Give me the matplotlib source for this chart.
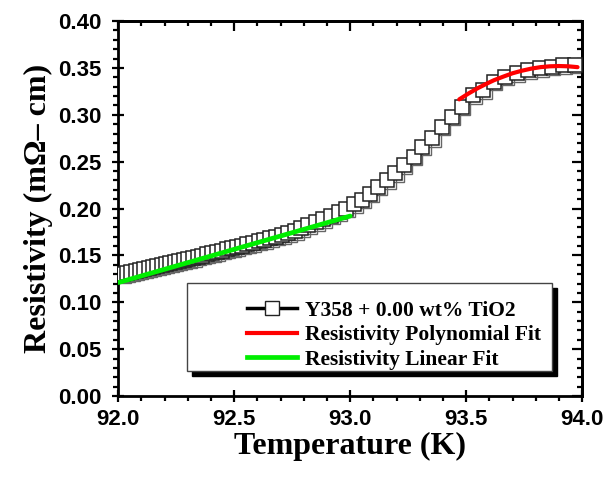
import matplotlib
matplotlib.use("Agg")
import matplotlib.pyplot as plt
import matplotlib.transforms as mtransforms
from matplotlib.ticker import MultipleLocator, FormatStrFormatter
from matplotlib.lines import Line2D
from matplotlib.patches import Rectangle

temperature = [92.020, 92.037, 92.056, 92.075, 92.093, 92.112, 92.131, 92.149, 92.168,
               92.187, 92.205, 92.224, 92.243, 92.261, 92.282, 92.302, 92.322, 92.342,
               92.362, 92.382, 92.404, 92.425, 92.447, 92.468, 92.490, 92.511, 92.534,
               92.557, 92.580, 92.605, 92.629, 92.655, 92.681, 92.708, 92.734, 92.762,
               92.790, 92.820, 92.852, 92.884, 92.917, 92.950, 92.984, 93.018, 93.052,
               93.086, 93.122, 93.158, 93.194, 93.230, 93.273, 93.309, 93.352, 93.395,
               93.438, 93.481, 93.531, 93.574, 93.618, 93.668, 93.718, 93.768, 93.819,
               93.869, 93.919, 93.970]
resistivity = [0.1300, 0.1309, 0.1320, 0.1330, 0.1340, 0.1351, 0.1362, 0.1372, 0.1383,
               0.1394, 0.1404, 0.1415, 0.1426, 0.1437, 0.1449, 0.1461, 0.1473, 0.1485,
               0.1498, 0.1510, 0.1523, 0.1536, 0.1550, 0.1563, 0.1577, 0.1590, 0.1605,
               0.1620, 0.1634, 0.1650, 0.1666, 0.1683, 0.1700, 0.1718, 0.1736, 0.1762,
               0.1790, 0.1820, 0.1855, 0.1890, 0.1925, 0.1960, 0.2000, 0.2045, 0.2095,
               0.2160, 0.2233, 0.2304, 0.2375, 0.2464, 0.2553, 0.2659, 0.2748, 0.2873,
               0.2979, 0.3086, 0.3210, 0.3264, 0.3353, 0.3406, 0.3442, 0.3477, 0.3495,
               0.3513, 0.3531, 0.3535]

# fit curves
linear_T = [92.0, 93.0]
linear_R = [0.121, 0.192]
poly_T = [93.47, 93.51, 93.55, 93.59, 93.62, 93.66, 93.70, 93.74, 93.78, 93.82, 93.86,
          93.90, 93.94, 93.98]
poly_R = [0.3164, 0.3227, 0.3284, 0.3334, 0.3369, 0.3407, 0.3443, 0.3470, 0.3492,
          0.3508, 0.3517, 0.3520, 0.3517, 0.3508]

series_label = "Y358 + 0.00 wt% TiO2"
poly_label = "Resistivity Polynomial Fit"
linear_label = "Resistivity Linear Fit"

serif = ['Liberation Serif', 'DejaVu Serif']
sans = ['Liberation Sans', 'DejaVu Sans']

fig = plt.figure(figsize=(6.06, 4.78), dpi=100)
ax = fig.add_axes([0.195, 0.1715, 0.7657, 0.7845])

# data squares with a small drop shadow
shadow = mtransforms.offset_copy(ax.transData, fig=fig, x=1.2, y=-1.2, units='points')
ax.plot(temperature, resistivity, ls='none', marker='s', ms=9.6, mfc='none',
        mec='#666666', mew=1.0, transform=shadow, zorder=2)
ax.plot(temperature, resistivity, ls='none', marker='s', ms=9.6, mfc='white',
        mec='#222222', mew=1.1, zorder=3)
ax.plot(poly_T, poly_R, color='#ff0000', lw=3.0, solid_capstyle='round', zorder=4)
ax.plot(linear_T, linear_R, color='#00ee00', lw=3.4, solid_capstyle='round', zorder=4)

ax.set_xlim(92.0, 94.0)
ax.set_ylim(0.0, 0.40)
ax.xaxis.set_major_locator(MultipleLocator(0.5))
ax.xaxis.set_minor_locator(MultipleLocator(0.1))
ax.yaxis.set_major_locator(MultipleLocator(0.05))
ax.yaxis.set_minor_locator(MultipleLocator(0.01))
ax.xaxis.set_major_formatter(FormatStrFormatter('%.1f'))
ax.yaxis.set_major_formatter(FormatStrFormatter('%.2f'))

for s in ax.spines.values():
    s.set_linewidth(2.0)
ax.tick_params(which='major', direction='inout', length=8, width=1.6, pad=5)
ax.tick_params(which='minor', direction='out', length=3.5, width=1.6)
ax.tick_params(axis='y', which='major', pad=8)
for lab in ax.get_xticklabels() + ax.get_yticklabels():
    lab.set_family(sans)
    lab.set_fontweight('bold')
    lab.set_fontsize(16)

# inward ticks on top and right
top = ax.secondary_xaxis('top')
top.xaxis.set_major_locator(MultipleLocator(0.5))
top.xaxis.set_minor_locator(MultipleLocator(0.1))
top.tick_params(which='major', direction='in', length=7, width=1.6, labeltop=False)
top.tick_params(which='minor', direction='in', length=3.5, width=1.6)
right = ax.secondary_yaxis('right')
right.yaxis.set_major_locator(MultipleLocator(0.05))
right.yaxis.set_minor_locator(MultipleLocator(0.01))
right.tick_params(which='major', direction='in', length=7, width=1.6, labelright=False)
right.tick_params(which='minor', direction='in', length=3.5, width=1.6)
for sec in (top, right):
    for s in sec.spines.values():
        s.set_linewidth(2.0)

ax.set_xlabel('Temperature (K)', family=serif, fontweight='bold', fontsize=23, labelpad=2)
ax.set_ylabel('Resistivity (mΩ– cm)', family=serif, fontweight='bold', fontsize=23, labelpad=4)

# legend box with a black drop shadow
bx, by, bw, bh = 0.149, 0.067, 0.786, 0.234
ax.add_patch(Rectangle((bx + 0.011, by - 0.013), bw, bh, transform=ax.transAxes,
                       facecolor='black', edgecolor='black', zorder=5))
ax.add_patch(Rectangle((bx, by), bw, bh, transform=ax.transAxes,
                       facecolor='white', edgecolor='#444444', lw=1.0, zorder=6))
handles = [
    Line2D([], [], color='black', lw=2.5, marker='s', ms=10.5, mfc='white', mec='#222222', mew=1.0),
    Line2D([], [], color='#ff0000', lw=3.0),
    Line2D([], [], color='#00ee00', lw=3.4),
]
leg = ax.legend(handles, [series_label, poly_label, linear_label], loc='upper left',
                bbox_to_anchor=(0.278, 0.254), frameon=False, borderpad=0, borderaxespad=0,
                handlelength=2.3, handletextpad=0.37, labelspacing=0.2,
                prop={'family': serif, 'weight': 'bold', 'size': 15.5})
leg.set_zorder(7)

fig.savefig('out.png', dpi=100)
